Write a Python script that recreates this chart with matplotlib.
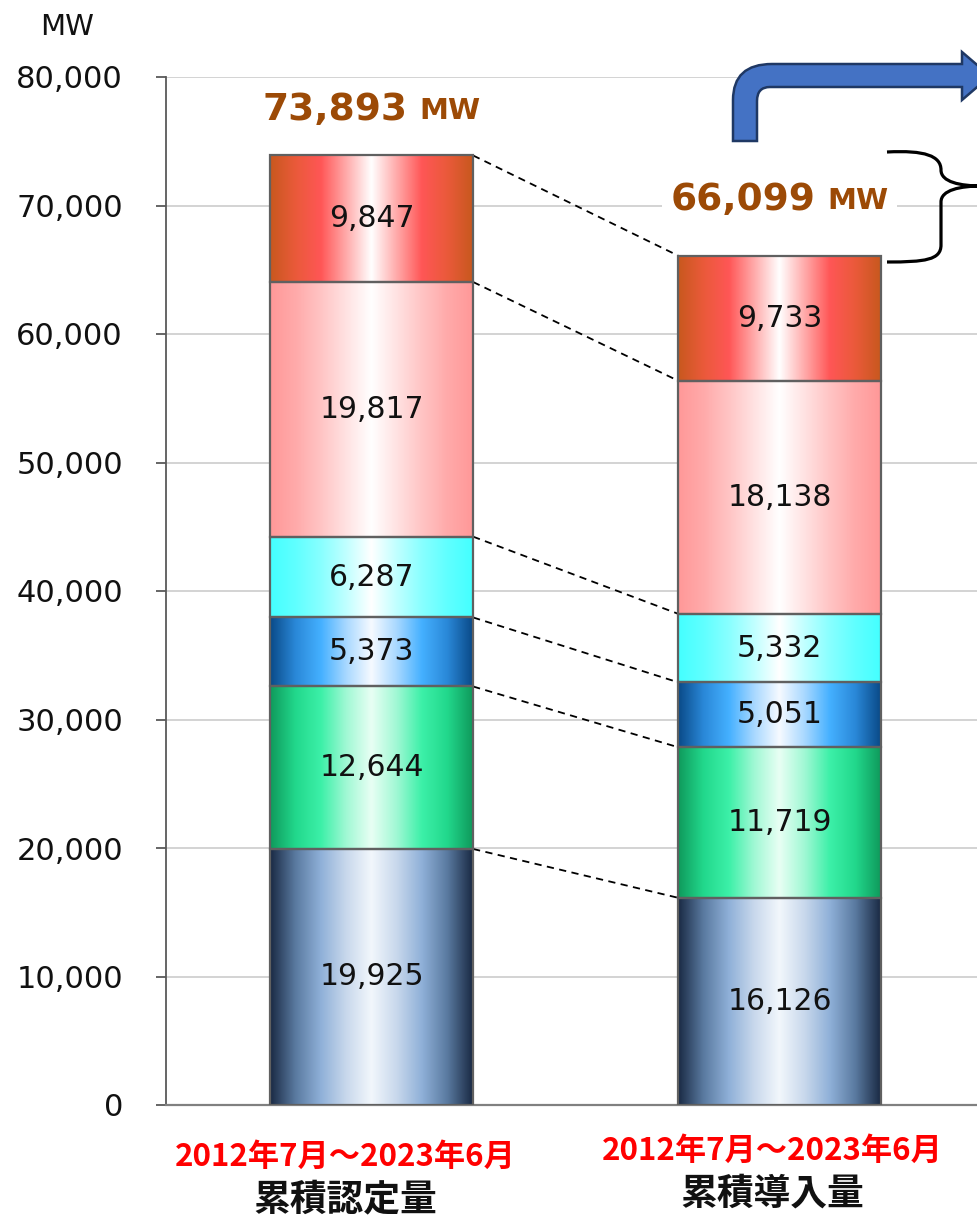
import numpy as np
import matplotlib
matplotlib.use('Agg')
import matplotlib.pyplot as plt
from matplotlib.colors import LinearSegmentedColormap
from matplotlib.patches import PathPatch
from matplotlib.path import Path
from matplotlib.ticker import FuncFormatter, MultipleLocator

# data
categories = ['累積認定量', '累積導入量']
periods = ['2012年7月～2023年6月', '2012年7月～2023年6月']
approved = [19925, 12644, 5373, 6287, 19817, 9847]
installed = [16126, 11719, 5051, 5332, 18138, 9733]
series = [approved, installed]

# gradient stops per stack layer (edge -> mid -> center)
layer_stops = [
    ['#1a2a44', '#5a7aa0', '#8fb0d8', '#c8d8ec', '#f2f7fc'],
    ['#0f9a5c', '#22d88c', '#3cf0a8', '#a0f8d4', '#e8fff4'],
    ['#0a4a88', '#2a88d8', '#44b0ff', '#a8d8ff', '#f6faff'],
    ['#44ffff', '#60ffff', '#88ffff', '#c0ffff', '#ffffff'],
    ['#ff9898', '#ffaaaa', '#ffc4c4', '#ffe2e2', '#ffffff'],
    ['#c8581e', '#ea5a3a', '#ff5656', '#ffaaaa', '#ffffff'],
]

W, H = 977, 1218
fig = plt.figure(figsize=(W / 100, H / 100), dpi=100)
ax = fig.add_axes([166 / W, 1 - 1105 / H, 1 - 166 / W, (1105 - 77) / H])

width = 0.4975
gray_edge = '#606060'
label_font = 'DejaVu Sans'
cjk = ['Noto Sans CJK JP', 'DejaVu Sans']


def grad_image(stops):
    cm = LinearSegmentedColormap.from_list('g', stops + stops[-2::-1])
    return cm(np.linspace(0, 1, 256))[np.newaxis, :, :]


for i, vals in enumerate(series):
    bottoms = np.concatenate([[0], np.cumsum(vals)[:-1]])
    bars = ax.bar([i] * len(vals), vals, width=width, bottom=bottoms,
                  facecolor='none', edgecolor=gray_edge, linewidth=1.6, zorder=4)
    for k, (rect, v) in enumerate(zip(bars, vals)):
        x0, y0 = rect.get_x(), rect.get_y()
        ax.imshow(grad_image(layer_stops[k]), extent=[x0, x0 + rect.get_width(), y0, y0 + rect.get_height()],
                  aspect='auto', interpolation='bilinear', zorder=3)
        ax.text(i, y0 + v / 2, f'{v:,}', ha='center', va='center', fontsize=21.5,
                family=label_font, color='#111111', zorder=5)

# dashed connectors between the two bars
tops1 = np.cumsum(approved)
tops2 = np.cumsum(installed)
for a, b in zip(tops1, tops2):
    ax.plot([width / 2, 1 - width / 2], [a, b], color='black', lw=1.3,
            ls=(0, (4, 3)), zorder=2)

ax.set_xlim(-0.504, 1.484)
ax.set_ylim(0, 80000)
ax.yaxis.set_major_locator(MultipleLocator(10000))
ax.yaxis.set_major_formatter(FuncFormatter(lambda v, p: f'{v:,.0f}'))
ax.grid(axis='y', color='#cccccc', lw=1.2, zorder=0)
ax.set_axisbelow(True)
ax.set_xticks([])
for s in ['top', 'right']:
    ax.spines[s].set_visible(False)
ax.spines['left'].set_color('#595959')
ax.spines['bottom'].set_color('#808080')
ax.spines['left'].set_linewidth(1.3)
ax.spines['bottom'].set_linewidth(1.6)
ax.tick_params(axis='y', length=7, width=1.3, color='#595959', pad=24,
               labelsize=22, labelcolor='#111111')
for t in ax.get_yticklabels():
    t.set_family(label_font)

fig.text(67 / W, 1 - 27 / H, 'MW', ha='center', va='center', fontsize=21,
         family=label_font, color='#111111')

# totals above bars
brown = '#9c4a06'
total_offsets = [33, 40]
renderer = fig.canvas.get_renderer()
for i, vals in enumerate(series):
    tot = sum(vals)
    t1 = ax.annotate(f'{tot:,}', (i, tot), xytext=(0, total_offsets[i]), textcoords='offset points',
                     ha='right', va='center', fontsize=27, fontweight='bold', color=brown,
                     family=label_font, zorder=6,
                     bbox=dict(fc='white', ec='none', pad=6))
    t2 = ax.annotate('MW', (i, tot), xytext=(0, total_offsets[i] - 1), textcoords='offset points',
                     ha='left', va='center', fontsize=21, fontweight='bold', color=brown,
                     family=label_font, zorder=6,
                     bbox=dict(fc='white', ec='none', pad=6))
    w1 = t1.get_window_extent(renderer).width * 72 / fig.dpi
    w2 = t2.get_window_extent(renderer).width * 72 / fig.dpi
    gap = 9
    total_w = w1 + gap + w2
    t1.set_position((-total_w / 2 + w1, total_offsets[i]))
    t2.set_position((-total_w / 2 + w1 + gap, total_offsets[i] - 1))

# category labels under bars
period_offsets = [(-19, -37), (-5.4, -33)]
name_offsets = [(-19, -68.5), (-5.4, -64)]
for i in range(len(categories)):
    ax.annotate(periods[i], (i, 0), xytext=period_offsets[i], textcoords='offset points',
                ha='center', va='center', fontsize=22.5, fontweight='bold', color='#ff0000',
                family=cjk, annotation_clip=False)
    ax.annotate(categories[i], (i, 0), xytext=name_offsets[i], textcoords='offset points',
                ha='center', va='center', fontsize=26.5, fontweight='bold', color='#111111',
                family=cjk, annotation_clip=False)


def P(x, y):
    return (x / W, 1 - y / H)


# bent blue arrow
verts = [P(733, 141), P(733, 100), P(733, 64), P(772, 64), P(962, 64), P(962, 52),
         P(990, 76), P(962, 100), P(962, 87), P(770, 87), P(757, 87), P(757, 101),
         P(757, 141), P(733, 141)]
codes = [Path.MOVETO, Path.LINETO, Path.CURVE3, Path.CURVE3, Path.LINETO, Path.LINETO,
         Path.LINETO, Path.LINETO, Path.LINETO, Path.LINETO, Path.CURVE3, Path.CURVE3,
         Path.LINETO, Path.CLOSEPOLY]
fig.patches.append(PathPatch(Path(verts, codes), facecolor='#4472c4', edgecolor='#1f3864',
                             lw=1.8, transform=fig.transFigure, zorder=10))

# curly brace
bverts = [P(887, 152), P(925, 150), P(941, 156), P(941, 170),
          P(941, 182), P(960, 186), P(982, 186),
          P(960, 186), P(941, 190), P(941, 202),
          P(941, 245),
          P(941, 260), P(925, 262), P(887, 262)]
bcodes = [Path.MOVETO, Path.CURVE4, Path.CURVE4, Path.CURVE4,
          Path.CURVE4, Path.CURVE4, Path.CURVE4,
          Path.CURVE4, Path.CURVE4, Path.CURVE4,
          Path.LINETO,
          Path.CURVE4, Path.CURVE4, Path.CURVE4]
fig.patches.append(PathPatch(Path(bverts, bcodes), facecolor='none', edgecolor='black',
                             lw=2.3, transform=fig.transFigure, zorder=10))

fig.savefig('out.png', dpi=100)
